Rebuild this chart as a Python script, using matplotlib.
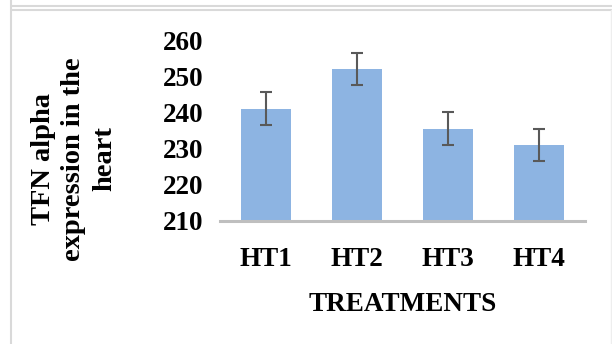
import matplotlib.pyplot as plt
from matplotlib.lines import Line2D

# data
treatments = ['HT1', 'HT2', 'HT3', 'HT4']
tfn_alpha = [241, 252, 235.5, 231]
tfn_err = [4.5, 4.5, 4.5, 4.4]
y_ticks = [210, 220, 230, 240, 250, 260]

plt.rcParams['font.family'] = ['Liberation Serif', 'DejaVu Serif']
plt.rcParams['font.weight'] = 'bold'

fig = plt.figure(figsize=(6.12, 3.44), dpi=100)
ax = fig.add_axes([220 / 612, 1 - 221 / 344, 365 / 612, 181 / 344])

x = range(len(treatments))
ax.bar(x, tfn_alpha, width=0.55, bottom=0, color='#8db4e2', zorder=2)
ax.errorbar(x, tfn_alpha, yerr=tfn_err, fmt='none', ecolor='#595959',
            elinewidth=1.5, capsize=4.5, capthick=1.5, zorder=3)

ax.set_ylim(210, 260)
ax.set_xlim(-0.5, 3.5)
ax.set_yticks(y_ticks)
ax.set_xticks(list(x))
ax.set_xticklabels(treatments)
ax.tick_params(axis='both', length=0, labelsize=19.5)
ax.tick_params(axis='y', pad=12)
ax.tick_params(axis='x', pad=19)
for lab in ax.get_xticklabels() + ax.get_yticklabels():
    lab.set_fontweight('bold')

for side in ['top', 'right', 'left']:
    ax.spines[side].set_visible(False)
ax.spines['bottom'].set_color('#bfbfbf')
ax.spines['bottom'].set_linewidth(2.2)
ax.spines['bottom'].set_zorder(4)

ax.set_xlabel('TREATMENTS', fontsize=19.5, fontweight='bold', labelpad=14)

fig.text(74 / 612, 1 - 159 / 344, 'TFN alpha\nexpression in the\nheart',
         rotation=90, ha='center', va='center', fontsize=20.5,
         fontweight='bold', linespacing=1.3, multialignment='center')

# light grey frame around the panel
grey = '#d9d9d9'
fig.add_artist(Line2D([11 / 612, 11 / 612], [0, 1], transform=fig.transFigure,
                      color=grey, linewidth=1.5))
fig.add_artist(Line2D([12 / 612, 1], [1 - 6 / 344, 1 - 6 / 344], transform=fig.transFigure,
                      color=grey, linewidth=1.5))
fig.add_artist(Line2D([12 / 612, 1], [1 - 10 / 344, 1 - 10 / 344], transform=fig.transFigure,
                      color=grey, linewidth=1.5))
fig.add_artist(Line2D([611 / 612, 611 / 612], [0, 1 - 10 / 344], transform=fig.transFigure,
                      color='#eeeeee', linewidth=1))

fig.savefig('out.png', dpi=100)
